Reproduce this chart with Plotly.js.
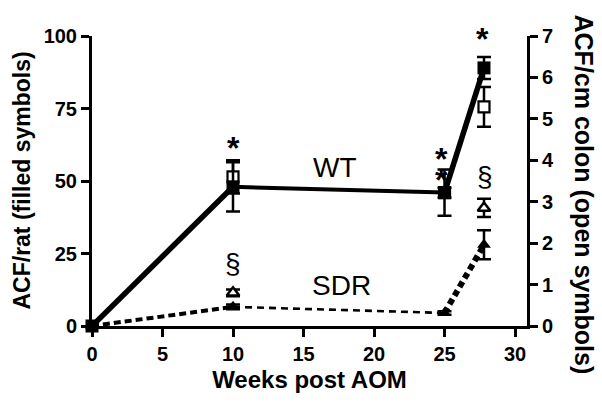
<!DOCTYPE html>
<html>
<head>
<meta charset="utf-8">
<script src="https://cdn.plot.ly/plotly-3.0.1.min.js"></script>
<style>html,body{margin:0;padding:0;background:#fff}#chart{width:602px;height:407px}</style>
</head>
<body>
<div id="chart"></div>
<script>
// ---- data ----
const weeks = [0, 10, 25, 27.8];
const wtFilled = [0, 48, 46, 89];            // ACF/rat, WT (filled squares, left axis)
const wtFilledErr = [0, 8.5, 8, 3.8];
const sdrFilled = [0, 6.6, 4.5, 28];          // ACF/rat, SDR (filled triangles, left axis)
const sdrFilledErr = [0, 0.8, 0.6, 5];

const wtOpenWeeks = [10, 25, 27.8];
const wtOpen = [3.6, 3.22, 5.29];             // ACF/cm colon, WT (open squares, right axis)
const wtOpenErr = [0.4, 0.12, 0.48];
const sdrOpenWeeks = [10, 27.8];
const sdrOpen = [0.8, 2.85];                  // ACF/cm colon, SDR (open triangles, right axis)
const sdrOpenErr = [0.08, 0.22];

const xTicks = [0, 5, 10, 15, 20, 25, 30];
const yTicks = [0, 25, 50, 75, 100];
const y2Ticks = [0, 1, 2, 3, 4, 5, 6, 7];

const marks = ['*', '*', '*', '*', '§', '§', 'WT', 'SDR'];
const markX = [10, 24.8, 24.8, 27.7, 10, 27.85, 17.2, 17.7];
const markY = [64, 60.5, 53, 100, 21.7, 51.4, 54.5, 14.1];

// ---- styling ----
// Left axis (ACF/rat) is drawn as 'y2' overlaying the right axis 'y' so filled symbols sit on top.
const FONT = 'Liberation Sans, Arial, Helvetica, sans-serif';
const markShift = [-8, -8, -8, -3, 0, 0, 0, 0];
const seg = (arr, i) => arr.slice(i, i + 2);

const traces = [];
// open symbols (right axis, bottom layer)
traces.push({x: wtOpenWeeks, y: wtOpen, yaxis: 'y', mode: 'markers', cliponaxis: false,
  marker: {symbol: 'square', size: 11, color: '#fff', line: {color: '#000', width: 2.2}},
  error_y: {type: 'data', array: wtOpenErr, visible: true, color: '#000', thickness: 2.5, width: 7},
  showlegend: false});
traces.push({x: sdrOpenWeeks, y: sdrOpen, yaxis: 'y', mode: 'markers', cliponaxis: false,
  marker: {symbol: 'triangle-up', size: 11, color: '#fff', line: {color: '#000', width: 2.5}},
  error_y: {type: 'data', array: sdrOpenErr, visible: true, color: '#000', thickness: 2.5, width: 7},
  showlegend: false});
// WT solid line segments
const wtWidths = [5.5, 4, 5.5];
for (let i = 0; i < 3; i++) {
  traces.push({x: seg(weeks, i), y: seg(wtFilled, i), mode: 'lines', yaxis: 'y2',
    line: {color: '#000', width: wtWidths[i]}, hoverinfo: 'skip', showlegend: false});
}
// SDR dashed segments
const sdrWidths = [4, 2.6, 6];
const sdrDash = ['7px,4px', '7px,5px', '6px,4px'];
for (let i = 0; i < 3; i++) {
  traces.push({x: seg(weeks, i), y: seg(sdrFilled, i), mode: 'lines', yaxis: 'y2',
    line: {color: '#000', width: sdrWidths[i], dash: sdrDash[i]}, hoverinfo: 'skip', showlegend: false});
}
// filled symbols (left axis)
traces.push({x: weeks, y: sdrFilled, yaxis: 'y2', mode: 'markers', cliponaxis: false,
  marker: {symbol: 'triangle-up', size: 12, color: '#000'},
  error_y: {type: 'data', array: sdrFilledErr, visible: true, color: '#000', thickness: 2.5, width: 7},
  showlegend: false});
traces.push({x: weeks, y: wtFilled, yaxis: 'y2', mode: 'markers', cliponaxis: false,
  marker: {symbol: 'square', size: 13, color: '#000'},
  error_y: {type: 'data', array: wtFilledErr, visible: true, color: '#000', thickness: 2.5, width: 7},
  showlegend: false});

const annotations = marks.map((t, i) => {
  const isStar = t === '*';
  return {x: markX[i], y: markY[i], xref: 'x', yref: 'y2', text: t, showarrow: false,
    xanchor: 'center', yanchor: 'middle', yshift: markShift[i],
    font: {family: FONT, size: isStar ? 32 : 28, color: '#000', weight: isStar ? 'bold' : 'normal'}};
});
annotations.push({x: -0.162, y: 0.5, xref: 'paper', yref: 'paper', text: 'ACF/rat (filled symbols)',
  textangle: -90, showarrow: false, xanchor: 'center', yanchor: 'middle',
  font: {family: FONT, size: 23, color: '#000', weight: 'bold'}});
annotations.push({x: 1.13, y: 0.455, xref: 'paper', yref: 'paper', text: 'ACF/cm colon (open symbols)',
  textangle: 90, showarrow: false, xanchor: 'center', yanchor: 'middle',
  font: {family: FONT, size: 25, color: '#000', weight: 'bold'}});

const axisCommon = {showgrid: false, zeroline: false, showline: true, linecolor: '#000', linewidth: 3,
  ticks: 'outside', ticklen: 8, tickwidth: 3, tickcolor: '#000',
  tickfont: {family: FONT, size: 20, color: '#000', weight: 'bold'}};

const layout = {
  width: 602, height: 407,
  margin: {l: 92, r: 75, t: 36, b: 81},
  paper_bgcolor: '#fff', plot_bgcolor: '#fff',
  showlegend: false,
  xaxis: Object.assign({}, axisCommon, {range: [0, 30.85], tickvals: xTicks, ticktext: xTicks.map(String),
    title: {text: 'Weeks post AOM', font: {family: FONT, size: 24, color: '#000', weight: 'bold'}, standoff: 8}}),
  yaxis: Object.assign({}, axisCommon, {range: [0, 7], tickvals: y2Ticks, ticktext: y2Ticks.map(String),
    side: 'right', anchor: 'x'}),
  yaxis2: Object.assign({}, axisCommon, {range: [0, 100], tickvals: yTicks, ticktext: yTicks.map(String),
    overlaying: 'y', side: 'left', anchor: 'x'}),
  annotations: annotations
};

Plotly.newPlot('chart', traces, layout, {displayModeBar: false, staticPlot: true});
</script>
</body>
</html>
